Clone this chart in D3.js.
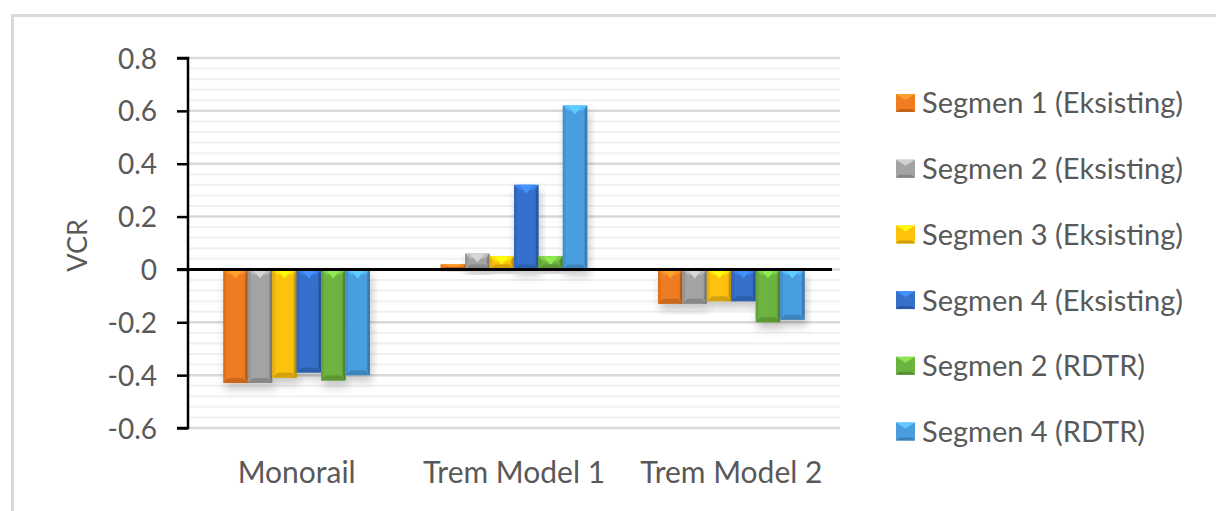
<!DOCTYPE html>
<html>
<head>
<meta charset="utf-8">
<script src="https://cdn.jsdelivr.net/npm/d3@7/dist/d3.min.js"></script>
<style>
  html, body { margin: 0; padding: 0; background: #fff; }
  svg { display: block; }
  text { font-family: Lato, "Open Sans", sans-serif; fill: #595959; }
</style>
</head>
<body>
<svg id="chart" width="1216" height="511"></svg>
<script>
// Categories and series (VCR values)
const categories = ["Monorail", "Trem Model 1", "Trem Model 2"];
const seriesNames = [
  "Segmen 1 (Eksisting)",
  "Segmen 2 (Eksisting)",
  "Segmen 3 (Eksisting)",
  "Segmen 4 (Eksisting)",
  "Segmen 2 (RDTR)",
  "Segmen 4 (RDTR)"
];
const seg1Eksisting = [-0.43, 0.02, -0.13];
const seg2Eksisting = [-0.43, 0.06, -0.13];
const seg3Eksisting = [-0.41, 0.05, -0.12];
const seg4Eksisting = [-0.39, 0.32, -0.12];
const seg2RDTR      = [-0.42, 0.05, -0.20];
const seg4RDTR      = [-0.40, 0.62, -0.19];
const seriesValues = [seg1Eksisting, seg2Eksisting, seg3Eksisting, seg4Eksisting, seg2RDTR, seg4RDTR];
const seriesColors = ["#F07C22", "#A3A3A3", "#FDC20A", "#3470CC", "#6DB33F", "#4A9EE0"];
const yTicks = [-0.6, -0.4, -0.2, 0, 0.2, 0.4, 0.6, 0.8];
const yTickLabels = ["-0.6", "-0.4", "-0.2", "0", "0.2", "0.4", "0.6", "0.8"];
const yLabel = "VCR";

const svg = d3.select("#chart");

// Chart frame
svg.append("rect")
  .attr("x", 12.5).attr("y", 15.5)
  .attr("width", 1216).attr("height", 520)
  .attr("fill", "none").attr("stroke", "#d9d9d9").attr("stroke-width", 3);

const plot = { left: 188, right: 840, top: 58, bottom: 428 };

const y = d3.scaleLinear().domain([-0.6, 0.8]).range([plot.bottom, plot.top]);
const x0 = d3.scaleBand().domain(categories).range([plot.left, plot.right]).paddingInner(0).paddingOuter(0);
const groupInset = 0.163;
const x1 = d3.scaleBand().domain(d3.range(seriesNames.length))
  .range([x0.bandwidth() * groupInset, x0.bandwidth() * (1 - groupInset)]).padding(0);

const defs = svg.append("defs");
const shadow = defs.append("filter").attr("id", "barShadow")
  .attr("x", "-30%").attr("y", "-30%").attr("width", "160%").attr("height", "160%");
shadow.append("feDropShadow").attr("dx", 2).attr("dy", 6).attr("stdDeviation", 4)
  .attr("flood-color", "#000").attr("flood-opacity", 0.22);

seriesColors.forEach((c, i) => {
  const g = defs.append("linearGradient").attr("id", "grad" + i)
    .attr("x1", "0").attr("x2", "1").attr("y1", "0").attr("y2", "0");
  const base = d3.color(c);
  g.append("stop").attr("offset", "0").attr("stop-color", base.darker(0.35));
  g.append("stop").attr("offset", "0.15").attr("stop-color", base);
  g.append("stop").attr("offset", "0.85").attr("stop-color", base);
  g.append("stop").attr("offset", "1").attr("stop-color", base.darker(0.5));
});

// Gridlines: minor every 0.04, major every 0.2
const minorTicks = d3.range(-0.6, 0.8001, 0.04).map(v => +v.toFixed(2));
const grid = svg.append("g");
grid.selectAll("line.minor").data(minorTicks.filter(v => !yTicks.some(t => Math.abs(t - v) < 1e-6)))
  .join("line").attr("class", "minor")
  .attr("x1", plot.left).attr("x2", plot.right)
  .attr("y1", d => y(d)).attr("y2", d => y(d))
  .attr("stroke", "#f0f0f0").attr("stroke-width", 2);
grid.selectAll("line.major").data(yTicks)
  .join("line").attr("class", "major")
  .attr("x1", plot.left).attr("x2", plot.right)
  .attr("y1", d => y(d)).attr("y2", d => y(d))
  .attr("stroke", "#d9d9d9").attr("stroke-width", 2.5);

// Bevelled columns
function bevelBar(g, xPos, w, v, color, gradId) {
  const y0 = y(0), y1 = y(v);
  const top = Math.min(y0, y1), bot = Math.max(y0, y1);
  const h = bot - top;
  const base = d3.color(color);
  const b = Math.min(5, h / 2);
  const grp = g.append("g").attr("filter", "url(#barShadow)");
  grp.append("rect").attr("x", xPos).attr("y", top).attr("width", w).attr("height", h)
    .attr("fill", `url(#${gradId})`);
  // top bevel (lit)
  grp.append("path")
    .attr("d", `M${xPos},${top}L${xPos + w},${top}L${xPos + w - b},${top + b}L${xPos + b},${top + b}Z`)
    .attr("fill", base.brighter(0.45));
  grp.append("path")
    .attr("d", `M${xPos + w * 0.2},${top}L${xPos + w * 0.8},${top}L${xPos + w / 2},${top + Math.min(b * 1.8, h)}Z`)
    .attr("fill", base.brighter(0.8)).attr("opacity", 0.9);
  // bottom bevel (shaded)
  grp.append("path")
    .attr("d", `M${xPos},${bot}L${xPos + w},${bot}L${xPos + w - b},${bot - b}L${xPos + b},${bot - b}Z`)
    .attr("fill", base.darker(0.5));
  // side bevels
  grp.append("path")
    .attr("d", `M${xPos},${top}L${xPos + b * 0.5},${top + b}L${xPos + b * 0.5},${bot - b}L${xPos},${bot}Z`)
    .attr("fill", base.darker(0.25));
  grp.append("path")
    .attr("d", `M${xPos + w},${top}L${xPos + w - b * 0.5},${top + b}L${xPos + w - b * 0.5},${bot - b}L${xPos + w},${bot}Z`)
    .attr("fill", base.darker(0.7));
}

const bars = svg.append("g");
categories.forEach((cat, ci) => {
  seriesValues.forEach((vals, si) => {
    bevelBar(bars, x0(cat) + x1(si), x1.bandwidth(), vals[ci], seriesColors[si], "grad" + si);
  });
});

// Zero line (category axis)
svg.append("line")
  .attr("x1", plot.left - 11).attr("x2", 832)
  .attr("y1", y(0)).attr("y2", y(0))
  .attr("stroke", "#000").attr("stroke-width", 3);

// Value axis
const yAxis = d3.axisLeft(y).tickValues(yTicks).tickSize(11).tickPadding(20)
  .tickFormat((d, i) => yTickLabels[i]);
const ya = svg.append("g").attr("transform", `translate(${plot.left},0)`).call(yAxis);
ya.select(".domain").attr("stroke", "#000").attr("stroke-width", 2.5)
  .attr("d", `M-11,${plot.top}H0V${plot.bottom}H-11`);
ya.selectAll(".tick line").attr("stroke", "#000").attr("stroke-width", 2.5);
ya.selectAll(".tick text").style("font-size", "28px").attr("fill", "#595959").attr("dy", "0.36em");

// Axis title
svg.append("text")
  .attr("transform", `translate(87,${(y(0.2) + y(-0.2)) / 2 - 24}) rotate(-90)`)
  .attr("text-anchor", "middle")
  .style("font-size", "27px")
  .text(yLabel);

// Category labels
svg.append("g").selectAll("text").data(categories).join("text")
  .attr("x", d => x0(d) + x0.bandwidth() / 2)
  .attr("y", 483)
  .attr("text-anchor", "middle")
  .style("font-size", "30px")
  .text(d => d);

// Legend
const legend = svg.append("g");
const legendRowY = i => 103 + i * 65.7;
seriesNames.forEach((name, i) => {
  const row = legend.append("g");
  const base = d3.color(seriesColors[i]);
  const mx = 896, my = legendRowY(i) - 9, mw = 19, mh = 18;
  row.append("rect").attr("x", mx).attr("y", my).attr("width", mw).attr("height", mh)
    .attr("fill", base);
  row.append("path")
    .attr("d", `M${mx},${my}L${mx + mw},${my}L${mx + mw / 2},${my + 6}Z`)
    .attr("fill", base.brighter(0.7));
  row.append("path")
    .attr("d", `M${mx},${my + mh}L${mx + mw},${my + mh}L${mx + mw - 3},${my + mh - 3}L${mx + 3},${my + mh - 3}Z`)
    .attr("fill", base.darker(0.6));
  row.append("text")
    .attr("x", 922).attr("y", legendRowY(i)).attr("dy", "0.36em")
    .style("font-size", "29px")
    .text(name);
});
</script>
</body>
</html>
